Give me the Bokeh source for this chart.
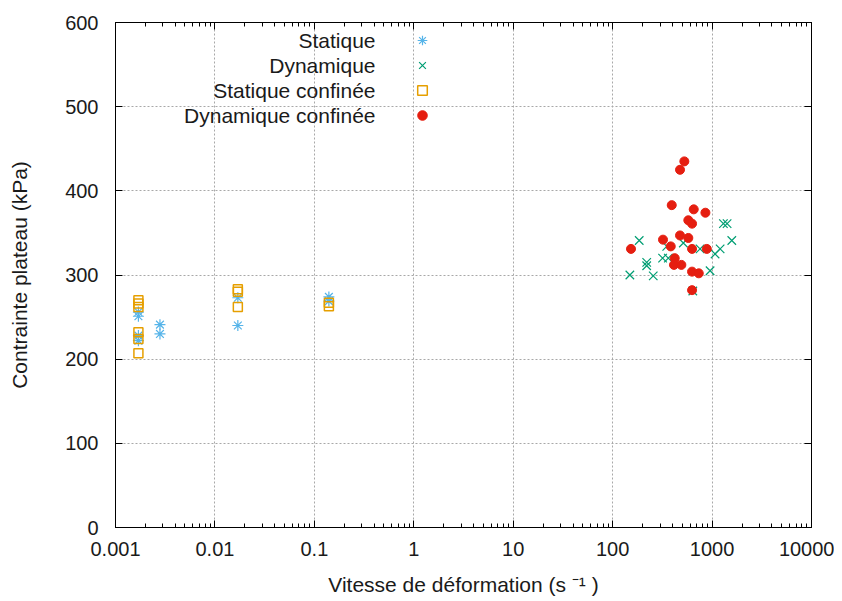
from bokeh.plotting import figure
from bokeh.models import (Range1d, FixedTicker, CustomJSTickFormatter, LogAxis, LinearAxis,
                          Legend, LegendItem, Label)
from bokeh.embed import file_html
from bokeh.resources import INLINE

# ---- data ----
statique_x = [0.0017, 0.0017, 0.0017, 0.0017, 0.0028, 0.0028, 0.017, 0.017, 0.14, 0.14]
statique_y = [256, 251, 228, 222, 241, 230, 273, 240, 274, 269]

dyn_x = [185, 149, 220, 220, 256, 318, 363, 350, 514, 757, 955, 1072, 1205, 1300, 1416, 1579, 640]
dyn_y = [341, 300, 315, 311, 299, 320, 320, 334, 338, 331, 305, 325, 331, 361, 361, 341, 281]

stat_conf_x = [0.0017, 0.0017, 0.0017, 0.0017, 0.0017, 0.0017, 0.017, 0.017, 0.017, 0.14, 0.14]
stat_conf_y = [270, 266, 262, 232, 224, 207, 283, 280, 262, 267, 263]

dyn_conf_x = [526, 476, 393, 654, 857, 577, 629, 476, 577, 321, 153, 384, 629, 885, 421, 414, 491, 629, 735, 629]
dyn_conf_y = [435, 425, 383, 378, 374, 365, 361, 347, 344, 342, 331, 334, 331, 331, 320, 312, 312, 304, 302, 282]

series_names = ["Statique", "Dynamique", "Statique confinée", "Dynamique confinée"]

x_ticks = [0.001, 0.01, 0.1, 1, 10, 100, 1000, 10000]
y_ticks = [0, 100, 200, 300, 400, 500, 600]

FONT = "Liberation Sans"
FS = "20px"

p = figure(width=834, height=598, x_axis_type="log", output_backend="svg", toolbar_location=None,
           x_range=Range1d(0.001, 10000), y_range=Range1d(0, 600),
           min_border_left=115, min_border_right=23, min_border_top=22, min_border_bottom=71,
           background_fill_color="white", border_fill_color="white")

p.outline_line_color = "black"
p.outline_line_width = 1

minor = [m * d for d in x_ticks[:-1] for m in range(2, 10)]
xticker = FixedTicker(ticks=x_ticks, minor_ticks=minor)
yticker = FixedTicker(ticks=y_ticks)

xa = p.xaxis[0]
xa.ticker = xticker
xa.formatter = CustomJSTickFormatter(code="return String(tick)")
ya = p.yaxis[0]
ya.ticker = yticker

for ax in (xa, ya):
    ax.axis_line_color = "black"
    ax.major_tick_in = 7
    ax.major_tick_out = 0
    ax.minor_tick_in = 4
    ax.minor_tick_out = 0
    ax.major_tick_line_color = "black"
    ax.minor_tick_line_color = "black"
    ax.major_label_text_font = FONT
    ax.major_label_text_font_size = FS
    ax.major_label_text_color = "#1a1a1a"
    ax.axis_label_text_font = FONT
    ax.axis_label_text_font_size = "21px"
    ax.axis_label_text_font_style = "normal"
    ax.axis_label_text_color = "#1a1a1a"
ya.minor_tick_line_color = None

xa.axis_label = "Vitesse de déformation (s ⁻¹ )"
ya.axis_label = "Contrainte plateau (kPa)"
xa.major_label_standoff = 14
xa.axis_label_standoff = 14
ya.major_label_standoff = 17
ya.axis_label_standoff = 31

top = LogAxis(ticker=xticker, major_tick_in=7, major_tick_out=0, minor_tick_in=4, minor_tick_out=0,
              major_label_text_font_size="2px", major_label_text_color=None,
              major_label_standoff=0, axis_line_color="black")
right = LinearAxis(ticker=yticker, major_tick_in=7, major_tick_out=0, minor_tick_line_color=None,
                   major_label_text_font_size="2px", major_label_text_color=None,
                   major_label_standoff=0, axis_line_color="black")
p.add_layout(top, "above")
p.add_layout(right, "right")

for g in (p.xgrid[0], p.ygrid[0]):
    g.grid_line_color = "#a8a8a8"
    g.grid_line_dash = "2 2"
    g.grid_line_width = 1

r1 = p.scatter(statique_x, statique_y, marker="asterisk", size=11, line_color="#56b4e9", line_width=1.2)
r2 = p.scatter(dyn_x, dyn_y, marker="x", size=12, line_color="#009e73", line_width=1.2)
r3 = p.scatter(stat_conf_x, stat_conf_y, marker="square", size=9, line_color="#e69f00",
               fill_color=None, line_width=1.5)
r4 = p.scatter(dyn_conf_x, dyn_conf_y, marker="circle", size=9, line_color="#e51e10",
               fill_color="#e51e10", line_width=1)

# legend symbols (labels drawn separately, right-aligned to the left of the symbols)
legend = Legend(items=[LegendItem(label=" ", renderers=[r]) for r in (r1, r2, r3, r4)],
                location=(295, 400), glyph_width=24, glyph_height=24, label_height=20,
                label_width=1, spacing=1, padding=0, margin=0, label_standoff=0,
                label_text_font_size="10px", border_line_color=None, background_fill_alpha=0)
p.add_layout(legend)

for i, name in enumerate(series_names):
    p.add_layout(Label(x=260, y=487 - 25 * i, x_units="screen", y_units="screen", text=name,
                       text_align="right", text_baseline="middle", text_font=FONT,
                       text_font_size="21px", text_color="#1a1a1a"))

open("out.html", "w").write(file_html(p, INLINE))
